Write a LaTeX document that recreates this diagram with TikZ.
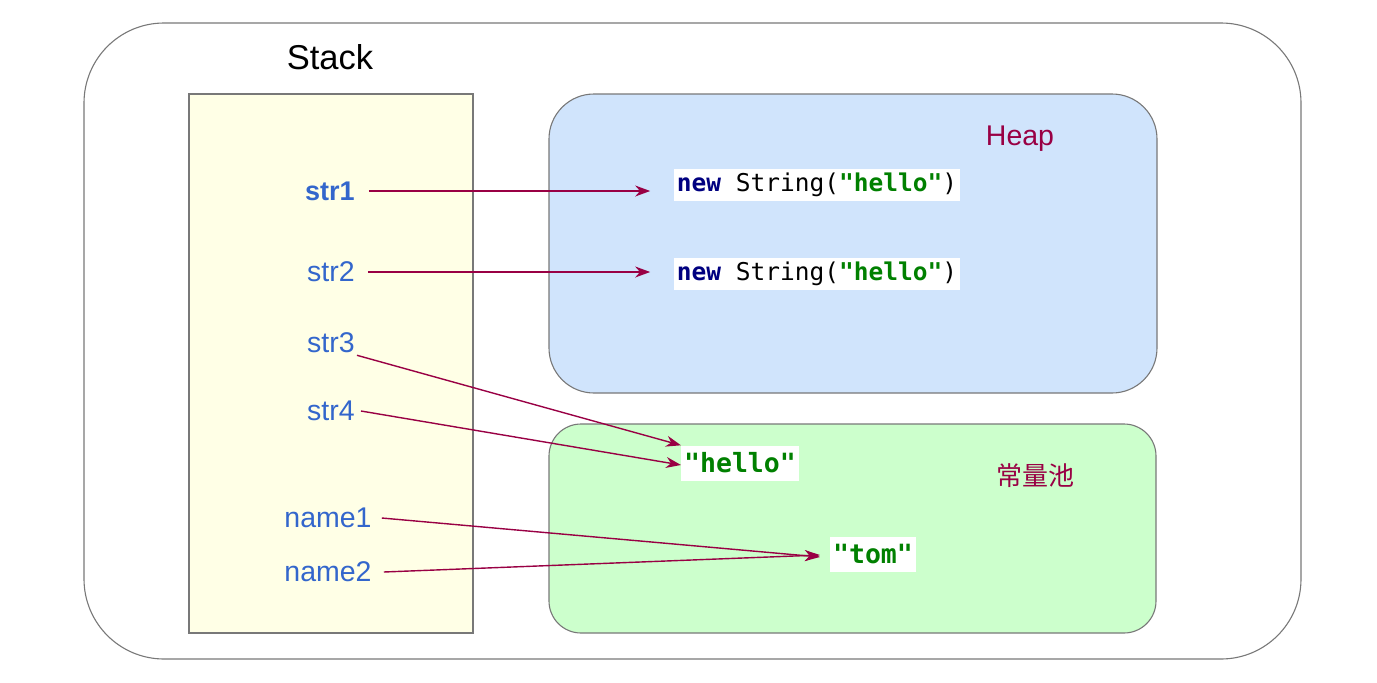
\documentclass[tikz,border=0pt]{standalone}
\usepackage{fontspec}
\setmainfont{Liberation Sans}
\setmonofont{DejaVu Sans Mono}
\newfontfamily\cjkfont{Noto Sans CJK SC}
\usetikzlibrary{arrows.meta}
\definecolor{frame}{RGB}{120,120,120}
\definecolor{stackfill}{RGB}{255,255,230}
\definecolor{heapfill}{RGB}{208,228,252}
\definecolor{poolfill}{RGB}{204,255,204}
\definecolor{maroon}{RGB}{153,0,68}
\definecolor{varblue}{RGB}{51,102,204}
\definecolor{kwblue}{RGB}{0,0,128}
\definecolor{strgreen}{RGB}{0,128,0}
\tikzset{
  region/.style={draw=frame, line width=1.1pt},
  varlabel/.style={text=varblue, font=\fontsize{28.5}{31}\selectfont, inner sep=0pt, anchor=center},
  codebox/.style={fill=white, inner xsep=2.5pt, inner ysep=0pt, minimum height=32pt, font=\ttfamily\fontsize{24.5}{28}\selectfont},
  litbox/.style={fill=white, inner xsep=3pt, inner ysep=0pt, minimum height=35pt, font=\ttfamily\bfseries\fontsize{26.5}{30}\selectfont, text=strgreen},
  ref/.style={draw=maroon, line width=1.4pt, -{Stealth[length=15pt,width=11pt]}},
  areatitle/.style={text=maroon, inner sep=0pt}
}
\begin{document}
\begin{tikzpicture}[x=1pt,y=-1pt]
\useasboundingbox (0,0) rectangle (1377,683);
% outer frame
\draw[region, rounded corners=80pt] (84,23) rectangle (1301,659);
% stack
\node[anchor=center, inner sep=0pt, font=\fontsize{34.5}{38}\selectfont] (stacklbl) at (330,57) {Stack};
\draw[region, fill=stackfill] (189,94) rectangle (473,633);
% heap
\draw[region, fill=heapfill, rounded corners=45pt] (549,94) rectangle (1157,393);
\node[areatitle, font=\fontsize{28.5}{32}\selectfont] (heaplbl) at (1020,139) {Heap};
% constant pool
\draw[region, fill=poolfill, rounded corners=32pt] (549,424) rectangle (1156,633);
\node[areatitle, font=\cjkfont\fontsize{26}{30}\selectfont] (poollbl) at (1035,476) {常量池};
% code boxes
\node[codebox] (obj1) at (817,185) {\textbf{\color{kwblue}new} String(\textbf{\color{strgreen}"hello"})};
\node[codebox] (obj2) at (817,274) {\textbf{\color{kwblue}new} String(\textbf{\color{strgreen}"hello"})};
\node[litbox] (hello) at (740,463) {"hello"};
\node[litbox] (tom) at (873,554) {"tom"};
% variables
\node[varlabel, font=\bfseries\fontsize{27}{30}\selectfont] (s1) at (330,191) {str1};
\node[varlabel] (s2) at (331,272) {str2};
\node[varlabel] (s3) at (331,343) {str3};
\node[varlabel] (s4) at (331,411) {str4};
\node[varlabel] (n1) at (328,518) {name1};
\node[varlabel] (n2) at (328,572) {name2};
% references
\draw[ref] ([xshift=14pt]s1.east) -- ([xshift=-24pt]obj1.west |- s1.east);
\draw[ref] ([xshift=13pt]s2.east) -- ([xshift=-24pt]obj2.west |- s2.east);
\draw[ref] ([xshift=2pt,yshift=-2pt]s3.south east) -- (hello.north west);
\draw[ref] ([xshift=6pt]s4.east) -- ([yshift=-2pt]hello.west);
\draw[ref] ([xshift=10pt]n1.east) -- ([xshift=-10pt,yshift=-3pt]tom.west);
\draw[ref] ([xshift=12pt]n2.east) -- ([xshift=-10pt,yshift=-1pt]tom.west);
\end{tikzpicture}
\end{document}
